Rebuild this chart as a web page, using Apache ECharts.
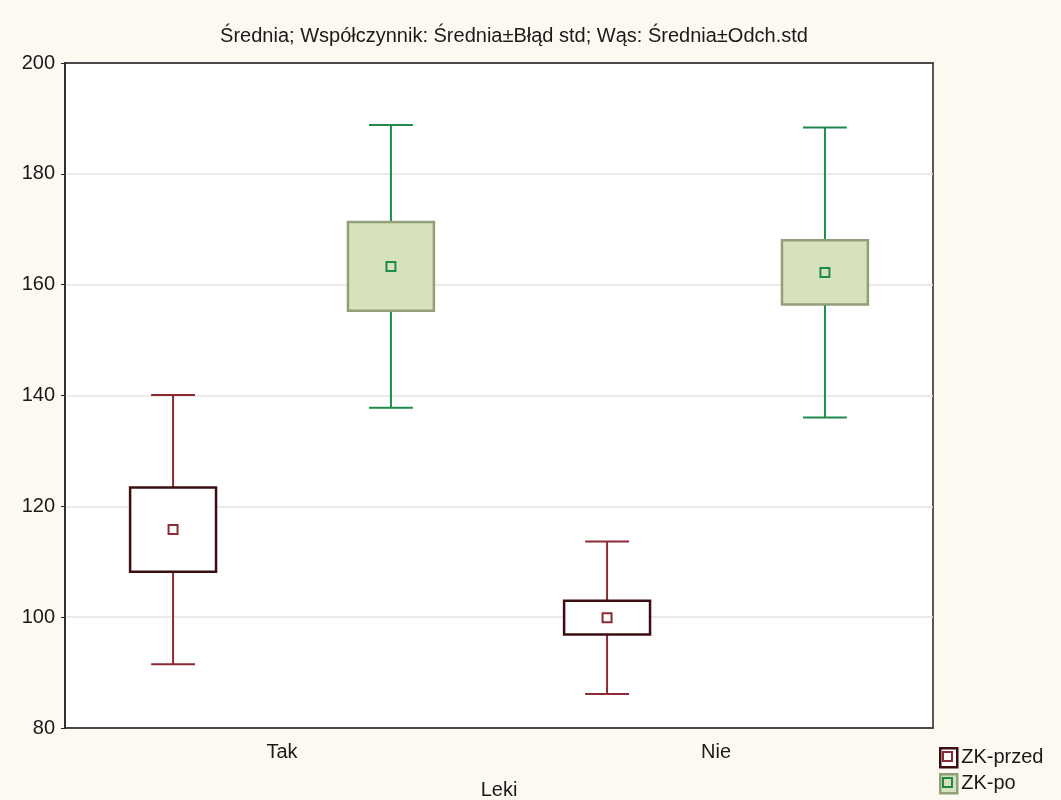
<!DOCTYPE html>
<html>
<head>
<meta charset="utf-8">
<script src="https://cdn.jsdelivr.net/npm/echarts@6/dist/echarts.min.js"></script>
<style>
  html, body { margin: 0; padding: 0; background: #fcf9f1; }
  #chart { width: 1061px; height: 800px; }
</style>
</head>
<body>
<div id="chart"></div>
<script>
// Group labels on the x axis
const categories = ['Tak', 'Nie'];
const seriesNames = ['ZK-przed', 'ZK-po'];

// Means, standard errors (box) and standard deviations (whiskers)
const przedMean = [115.8, 99.9];
const przedSE = [7.6, 3.05];
const przedSD = [24.3, 13.75];

const poMean = [163.3, 162.2];
const poSE = [8.0, 5.8];
const poSD = [25.5, 26.15];

const yTicks = { min: 80, max: 200, interval: 20 };

const styles = {
  'ZK-przed': {
    offset: -0.251, whisker: '#8c2b33', boxFill: '#ffffff', boxStroke: '#3b0e12', mean: '#8c2b33'
  },
  'ZK-po': {
    offset: 0.251, whisker: '#1f8a4c', boxFill: '#d5e2bc', boxStroke: '#939f78', mean: '#1f8a4c'
  }
};

function buildData(means, ses, sds) {
  return categories.map((c, i) => [i, means[i], ses[i], sds[i]]);
}

function makeRenderer(st) {
  return function (params, api) {
    const idx = api.value(0);
    const mean = api.value(1);
    const se = api.value(2);
    const sd = api.value(3);
    const band = api.size([1, 0])[0];
    const cx = api.coord([idx, mean])[0] + st.offset * band;
    const y = v => api.coord([idx, v])[1];
    const boxW = band * 0.198;
    const capW = band * 0.101;
    const yMean = y(mean);
    const yBoxTop = y(mean + se), yBoxBot = y(mean - se);
    const yWTop = y(mean + sd), yWBot = y(mean - sd);
    const lineStyle = { stroke: st.whisker, lineWidth: 2 };
    return {
      type: 'group',
      children: [
        { type: 'line', shape: { x1: cx, y1: yWTop, x2: cx, y2: yWBot }, style: lineStyle },
        { type: 'line', shape: { x1: cx - capW / 2, y1: yWTop, x2: cx + capW / 2, y2: yWTop }, style: lineStyle },
        { type: 'line', shape: { x1: cx - capW / 2, y1: yWBot, x2: cx + capW / 2, y2: yWBot }, style: lineStyle },
        {
          type: 'rect',
          shape: { x: cx - boxW / 2, y: yBoxTop, width: boxW, height: yBoxBot - yBoxTop },
          style: { fill: st.boxFill, stroke: st.boxStroke, lineWidth: 2.5 }
        },
        {
          type: 'rect',
          shape: { x: cx - 4.5, y: yMean - 4.5, width: 9, height: 9 },
          style: { fill: st.boxFill, stroke: st.mean, lineWidth: 2 }
        }
      ]
    };
  };
}

const font = 'Liberation Sans, Arial, sans-serif';
const chart = echarts.init(document.getElementById('chart'), null, { renderer: 'canvas' });

const seriesData = {
  'ZK-przed': buildData(przedMean, przedSE, przedSD),
  'ZK-po': buildData(poMean, poSE, poSD)
};

// One legend block per series, stacked in the lower right corner
const legendTop = 747;
const legendStep = 26;
const legends = seriesNames.map((n, i) => ({
  left: 939, top: legendTop + i * legendStep, padding: 0,
  itemWidth: 17, itemHeight: 19, itemGap: 0,
  textStyle: { fontFamily: font, fontSize: 20, color: '#1a1a1a', padding: [0, 0, 0, -1] },
  data: [{
    name: n,
    icon: 'rect',
    itemStyle: { color: styles[n].boxFill, borderColor: styles[n].boxStroke, borderWidth: 2.5 }
  }]
}));

chart.setOption({
  backgroundColor: '#fcf9f1',
  animation: false,
  textStyle: { fontFamily: font, color: '#1a1a1a' },
  title: {
    text: 'Średnia; Współczynnik: Średnia±Błąd std; Wąs: Średnia±Odch.std',
    left: 509, top: 21, textAlign: 'center',
    textStyle: { fontFamily: font, fontSize: 20, fontWeight: 'normal', color: '#1a1a1a' }
  },
  grid: {
    left: 65, right: 128, top: 63, bottom: 72,
    outerBoundsMode: 'none', containLabel: false,
    show: true, backgroundColor: '#ffffff', borderColor: '#222222', borderWidth: 1.5
  },
  legend: legends,
  xAxis: [
    {
      type: 'category', data: categories, position: 'bottom',
      name: 'Leki', nameLocation: 'middle', nameGap: 52,
      nameTextStyle: { fontFamily: font, fontSize: 20, color: '#1a1a1a' },
      axisLine: { lineStyle: { color: '#222222', width: 1.5 } },
      axisTick: { alignWithLabel: true, length: 6, lineStyle: { color: '#222222' } },
      axisLabel: { fontFamily: font, fontSize: 20, color: '#1a1a1a', margin: 14 },
      splitLine: { show: false }
    },
    {
      type: 'category', data: categories, position: 'top',
      axisLine: { lineStyle: { color: '#222222', width: 1.5 } },
      axisTick: { alignWithLabel: true, inside: true, length: 6, lineStyle: { color: '#222222' } },
      axisLabel: { show: false },
      splitLine: { show: false }
    }
  ],
  yAxis: {
    type: 'value', min: yTicks.min, max: yTicks.max, interval: yTicks.interval,
    axisLine: { show: true, lineStyle: { color: '#222222', width: 1.5 } },
    axisTick: { show: true, length: 4, lineStyle: { color: '#222222' } },
    axisLabel: { fontFamily: font, fontSize: 20, color: '#1a1a1a', margin: 10 },
    splitLine: { show: true, lineStyle: { color: '#e3e3e3', width: 1.5 } }
  },
  graphic: seriesNames.map((n, i) => ({
    type: 'rect', silent: true,
    shape: { x: 943, y: legendTop + 5 + i * legendStep, width: 9, height: 9 },
    style: { fill: styles[n].boxFill, stroke: styles[n].mean, lineWidth: 2 },
    z: 100
  })),
  series: seriesNames.map(n => ({
    name: n,
    type: 'custom',
    xAxisIndex: 0,
    renderItem: makeRenderer(styles[n]),
    itemStyle: { color: styles[n].boxFill, borderColor: styles[n].boxStroke },
    encode: { x: 0, y: [1] },
    data: seriesData[n],
    z: 3
  }))
});
</script>
</body>
</html>
